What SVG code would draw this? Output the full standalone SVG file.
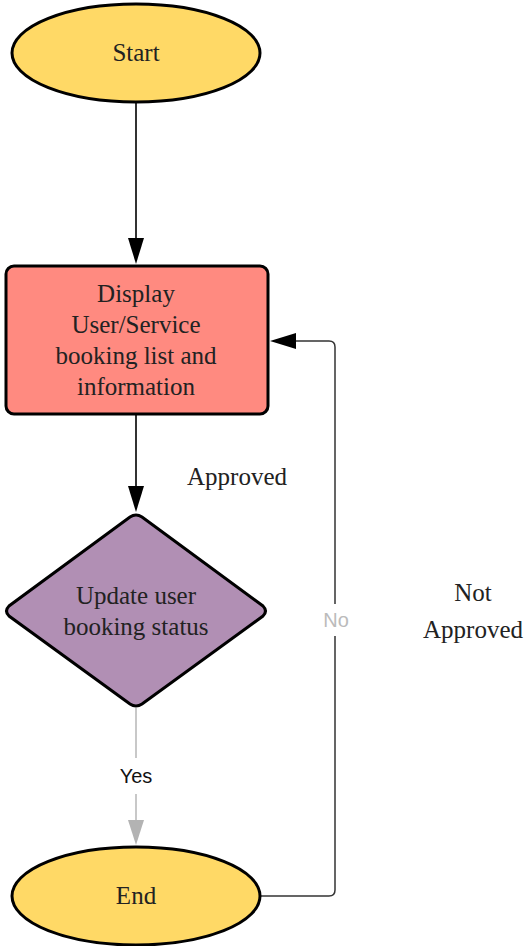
<svg xmlns="http://www.w3.org/2000/svg" width="525" height="946" viewBox="0 0 525 946">
<style>
.node{stroke:#000;stroke-width:3}
.t{font-family:"Liberation Serif","Times New Roman",serif;font-size:25px;fill:#222;text-anchor:middle}
.s{font-family:"Liberation Sans",Arial,sans-serif;font-size:20px;text-anchor:middle}
.c{fill:none;stroke:#333;stroke-width:2}
</style>
<rect width="525" height="946" fill="#fff"/>
<g id="connectors">
<line class="c" x1="136" y1="102" x2="136" y2="240"/>
<path d="M128,238 L144,238 L136,264 Z" fill="#000"/>
<line class="c" x1="136" y1="414" x2="136" y2="488"/>
<path d="M128,486 L144,486 L136,512 Z" fill="#000"/>
<line x1="136" y1="708" x2="136" y2="758" stroke="#c8c8c8" stroke-width="2"/>
<line x1="136" y1="794" x2="136" y2="822" stroke="#c8c8c8" stroke-width="2"/>
<path d="M128,820 L144,820 L136,845 Z" fill="#b3b3b3"/>
<text class="s" x="136" y="783" fill="#111">Yes</text>
<path d="M261,896 L329,896 Q335,896 335,890 L335,636" fill="none" stroke="#333" stroke-width="1.5"/>
<path d="M335,604 L335,347 Q335,341 329,341 L294,341" fill="none" stroke="#333" stroke-width="1.5"/>
<path d="M296,333 L296,349 L270,341 Z" fill="#000"/>
<text class="s" x="336" y="627" fill="#bbb">No</text>
</g>
<g id="start">
<ellipse class="node" cx="136" cy="53" rx="124" ry="49" fill="#ffd966"/>
<text class="t" x="136" y="61">Start</text>
</g>
<g id="display">
<rect class="node" x="6" y="266" width="262" height="148" rx="8" fill="#ff8a80"/>
<text class="t" x="136" y="302">Display</text>
<text class="t" x="136" y="333">User/Service</text>
<text class="t" x="136" y="364">booking list and</text>
<text class="t" x="136" y="395">information</text>
</g>
<g id="update">
<path class="node" d="M130,517 Q136,513 142,517 L263,606 Q268,611 263,616 L142,704 Q136,708 130,704 L9,616 Q4,611 9,606 Z" fill="#b18fb4"/>
<text class="t" x="136" y="604">Update user</text>
<text class="t" x="136" y="635">booking status</text>
</g>
<g id="end">
<ellipse class="node" cx="136" cy="896" rx="124" ry="49" fill="#ffd966"/>
<text class="t" x="136" y="904">End</text>
</g>
<g id="labels">
<text class="t" x="237" y="485">Approved</text>
<text class="t" x="473" y="601">Not</text>
<text class="t" x="473" y="638">Approved</text>
</g>
</svg>
